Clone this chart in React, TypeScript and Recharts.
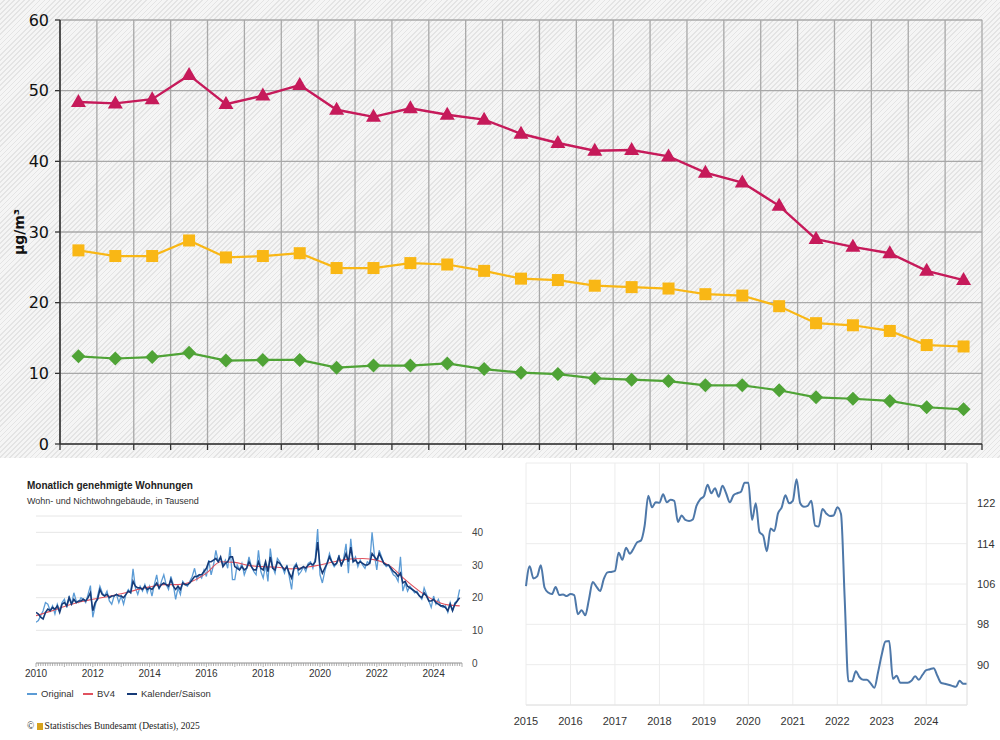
import React from 'react';
import { LineChart, Line, XAxis, YAxis, CartesianGrid } from 'recharts';

// --- top chart: NO2 annual means (µg/m³) ---
const NO2_YEARS = [
  2000, 2001, 2002, 2003, 2004, 2005, 2006, 2007, 2008, 2009, 2010, 2011, 2012,
  2013, 2014, 2015, 2016, 2017, 2018, 2019, 2020, 2021, 2022, 2023, 2024,
];
const NO2_TRAFFIC = [48.4, 48.2, 48.8, 52.2, 48.1, 49.3, 50.8, 47.3, 46.3, 47.5, 46.6, 45.9, 43.9, 42.6, 41.5, 41.6, 40.7, 38.4, 37.0, 33.7, 29.0, 27.9, 27.0, 24.5, 23.2];
const NO2_URBAN = [27.4, 26.6, 26.6, 28.8, 26.4, 26.6, 27.0, 24.9, 24.9, 25.6, 25.4, 24.5, 23.4, 23.2, 22.4, 22.2, 22.0, 21.2, 21.0, 19.5, 17.1, 16.8, 16.0, 14.0, 13.8];
const NO2_RURAL = [12.4, 12.1, 12.3, 12.9, 11.8, 11.9, 11.9, 10.8, 11.1, 11.1, 11.4, 10.6, 10.1, 9.9, 9.3, 9.1, 8.9, 8.3, 8.3, 7.6, 6.6, 6.4, 6.1, 5.2, 4.9];
const NO2_TICKS = [0, 10, 20, 30, 40, 50, 60];

// --- bottom left: Monatlich genehmigte Wohnungen (Tausend), Jan 2010 .. Dez 2024 ---
const WHG_YEARS = [2010, 2011, 2012, 2013, 2014, 2015, 2016, 2017, 2018, 2019, 2020, 2021, 2022, 2023, 2024];
const WHG_LABEL_YEARS = [2010, 2012, 2014, 2016, 2018, 2020, 2022, 2024];
const WHG_ORIGINAL = [
  12.5, 13.0, 14.5, 16.0, 18.5, 18.0, 16.0, 17.5, 15.0, 18.0, 16.0, 18.5,
  19.5, 17.0, 20.5, 18.0, 21.5, 19.0, 18.5, 20.0, 19.5, 18.5, 21.0, 23.7,
  14.0, 17.5, 20.5, 23.5, 21.5, 20.5, 22.0, 19.0, 18.0, 20.5, 21.0, 18.5,
  20.5, 18.0, 21.0, 22.5, 21.5, 28.8, 23.0, 21.0, 23.5, 22.0, 24.0, 21.5,
  23.5, 20.5, 24.0, 27.0, 22.5, 25.0, 27.0, 24.0, 22.5, 26.5, 24.0, 19.5,
  23.0, 21.0, 25.0, 24.0, 23.5, 25.0, 26.5, 29.0, 25.5, 27.0, 26.0, 28.5,
  26.5, 31.5, 27.0, 30.0, 34.5, 31.0, 32.0, 30.0, 31.5, 29.0, 35.5, 25.5,
  25.5, 30.0, 28.5, 30.5, 27.0, 29.0, 32.5, 29.5, 28.0, 27.0, 34.5, 28.0,
  26.0, 30.0, 25.0, 35.0, 29.5, 27.5, 32.0, 31.0, 29.5, 27.5, 30.0, 26.5,
  22.5, 29.5, 30.5, 27.0, 28.0, 29.5, 28.0, 30.5, 31.0, 29.0, 32.0, 41.0,
  27.0, 24.5, 28.0, 30.5, 33.5, 31.0, 29.5, 30.5, 33.0, 29.5, 32.0, 36.5,
  27.5, 38.0, 31.0, 32.5, 29.5, 31.5, 30.0, 29.0, 31.0, 30.5, 40.0, 33.0,
  28.5, 34.5, 32.5, 30.5, 29.5, 30.0, 28.5, 27.0, 26.5, 25.0, 32.5, 22.0,
  24.5, 22.0, 23.5, 22.5, 21.5, 22.0, 20.5, 19.5, 23.0, 21.0, 19.0, 17.0,
  20.5, 18.0, 19.5, 17.5, 17.0, 17.5, 15.5, 18.5, 16.0, 18.5, 19.0, 22.5,
];
const WHG_KALENDER_SAISON = [
  15.5, 15.0, 14.0, 13.5, 15.5, 16.5, 16.0, 17.0, 16.5, 17.5, 15.5, 18.0,
  18.5, 17.5, 20.0, 18.0, 19.5, 18.5, 19.0, 19.0, 19.5, 19.0, 20.0, 21.5,
  16.0, 18.5, 19.5, 22.5, 21.0, 20.5, 21.0, 20.0, 20.5, 20.5, 21.0, 20.5,
  20.5, 20.0, 21.0, 22.0, 21.5, 25.0, 23.5, 23.0, 23.0, 22.5, 23.5, 22.5,
  23.0, 22.5, 23.5, 24.5, 23.0, 24.0, 24.5, 24.0, 23.5, 25.5, 23.5, 22.5,
  23.5, 22.5, 24.5, 24.0, 24.0, 24.5, 25.5, 26.5, 26.5, 27.0, 27.0, 28.0,
  29.0, 31.0, 31.0, 31.5, 32.0, 31.0, 32.5, 29.5, 30.5, 31.0, 32.5, 32.5,
  29.5, 29.0, 28.5, 29.5, 28.5, 29.0, 31.0, 29.5, 28.5, 28.5, 31.0, 29.0,
  28.5, 31.0, 28.0, 32.5, 29.0, 28.5, 31.0, 30.5, 29.5, 28.5, 29.5, 27.5,
  26.0, 29.0, 30.0, 28.5, 29.0, 29.5, 29.0, 30.0, 30.5, 30.0, 31.0, 37.0,
  29.5, 27.5, 29.0, 30.5, 32.5, 31.0, 30.0, 30.5, 32.5, 30.0, 31.5, 33.5,
  31.0, 35.5, 31.0, 31.5, 30.5, 31.0, 30.5, 30.0, 30.0, 30.5, 33.5, 32.5,
  31.5, 33.5, 32.0, 30.5, 30.0, 30.0, 29.0, 28.0, 27.5, 26.5, 27.5, 24.5,
  25.0, 23.5, 23.0, 22.5, 22.0, 21.5, 20.5, 20.0, 21.5, 20.5, 19.0, 19.0,
  19.5, 18.5, 18.0, 17.5, 17.5, 17.0, 16.0, 18.0, 16.0, 18.0, 19.0, 20.0,
];
const BV4_TIME = [2010.0, 2010.5, 2011.0, 2011.5, 2012.0, 2012.5, 2013.0, 2013.5, 2014.0, 2014.5, 2015.0, 2015.5, 2016.0, 2016.5, 2017.0, 2017.5, 2018.0, 2018.5, 2019.0, 2019.5, 2020.0, 2020.5, 2021.0, 2021.5, 2022.0, 2022.5, 2023.0, 2023.5, 2024.0, 2024.5, 2024.92];
const BV4_VALUES = [14.5, 15.8, 17.3, 18.6, 19.5, 20.3, 21.2, 22.3, 23.3, 24.0, 24.0, 25.0, 27.5, 31.0, 30.8, 29.8, 29.5, 29.3, 28.8, 29.3, 30.0, 31.0, 31.8, 32.0, 31.5, 29.5, 25.5, 22.0, 19.3, 17.8, 17.5];
const WHG_TICKS_Y = [0, 10, 20, 30, 40];

// --- bottom right: monthly index, Jan 2015 .. Dez 2024 ---
const IDX_YEARS = [2015, 2016, 2017, 2018, 2019, 2020, 2021, 2022, 2023, 2024];
const IDX_VALUES = [
  105.6, 109.5, 107.1, 107.5, 109.7, 105.3, 104.3, 104.0, 105.4, 103.8, 103.9, 103.6,
  104.0, 103.8, 100.0, 100.8, 99.8, 103.0, 106.4, 105.5, 104.6, 107.0, 108.3, 108.4,
  108.6, 112.2, 110.8, 113.2, 112.0, 113.0, 114.3, 114.6, 117.5, 123.5, 121.2, 122.2,
  122.1, 123.8, 122.2, 122.7, 122.5, 118.3, 119.6, 118.7, 118.5, 118.8, 121.5, 122.8,
  123.4, 125.7, 124.0, 125.0, 123.3, 125.5, 124.0, 122.2, 123.6, 124.0, 124.3, 126.1,
  126.1, 118.7, 122.0, 116.3, 115.6, 112.5, 117.0, 116.5, 120.0, 121.2, 123.6, 122.0,
  122.5, 126.8, 122.0, 121.3, 121.5, 122.5, 117.6, 117.4, 120.9, 120.0, 119.5, 119.6,
  121.2, 119.9, 103.0, 86.7, 86.7, 88.7, 87.5, 87.0, 87.0, 86.3, 85.4, 88.5,
  92.0, 94.6, 94.7, 87.2, 87.8, 86.4, 86.4, 86.4, 86.8, 87.7, 87.0, 88.0,
  88.9, 89.1, 89.3, 87.8, 86.4, 86.2, 86.0, 85.8, 85.6, 86.8, 86.2, 86.2,
];
const IDX_TICKS_Y = [90, 98, 106, 114, 122];

const RED = '#c61a5a';
const YELLOW = '#f9b715';
const GREEN = '#4fa336';

const no2Data = NO2_YEARS.map((year, i) => ({
  year,
  traffic: NO2_TRAFFIC[i],
  urban: NO2_URBAN[i],
  rural: NO2_RURAL[i],
}));
const no2Bounds = [NO2_YEARS[0] - 0.5, ...NO2_YEARS.map((y) => y + 0.5)];

const monthly = (startYear: number, values: number[]) =>
  values.map((v, i) => ({ t: startYear + i / 12, v }));

const originalData = monthly(WHG_YEARS[0], WHG_ORIGINAL);
const kalenderData = monthly(WHG_YEARS[0], WHG_KALENDER_SAISON);
const bv4Data = BV4_TIME.map((t, i) => ({ t, v: BV4_VALUES[i] }));
const whgMonthTicks: number[] = [];
WHG_YEARS.forEach((y) => {
  for (let m = 0; m < 12; m++) whgMonthTicks.push(y + m / 12);
});
whgMonthTicks.push(WHG_YEARS[WHG_YEARS.length - 1] + 1);

const idxData = monthly(IDX_YEARS[0], IDX_VALUES);

const Triangle = (props: any) => {
  const { cx, cy, index } = props;
  if (cx == null || cy == null) return <g key={index} />;
  return (
    <polygon
      key={index}
      points={`${cx},${cy - 8} ${cx + 7.5},${cy + 5} ${cx - 7.5},${cy + 5}`}
      fill={RED}
    />
  );
};

const Square = (props: any) => {
  const { cx, cy, index } = props;
  if (cx == null || cy == null) return <g key={index} />;
  return <rect key={index} x={cx - 6} y={cy - 6} width={12} height={12} fill={YELLOW} />;
};

const Diamond = (props: any) => {
  const { cx, cy, index } = props;
  if (cx == null || cy == null) return <g key={index} />;
  return (
    <polygon
      key={index}
      points={`${cx},${cy - 7} ${cx + 7},${cy} ${cx},${cy + 7} ${cx - 7},${cy}`}
      fill={GREEN}
    />
  );
};

// x tick labels of the top chart are cut off in the source, keep just the tick marks
const EmptyTick = () => <g />;

const MonthTick = (props: any) => {
  const { x, y, payload } = props;
  const v = payload.value as number;
  const isYear = Math.abs(v - Math.round(v)) < 1e-6;
  const label = isYear && WHG_LABEL_YEARS.includes(Math.round(v));
  return (
    <g>
      <line x1={x} x2={x} y1={y} y2={y + (isYear ? 4 : 3)} stroke="#9a9a9a" strokeWidth={0.8} />
      {label && (
        <text x={x} y={y + 14} textAnchor="middle" fontSize={10} fill="#333" fontFamily="Liberation Sans, Arial, sans-serif">
          {Math.round(v)}
        </text>
      )}
    </g>
  );
};

const sans = 'Liberation Sans, Arial, sans-serif';

function LegendItem({ color, label, left }: { color: string; label: string; left: number }) {
  return (
    <div style={{ position: 'absolute', left, top: 688, display: 'flex', alignItems: 'center', fontFamily: sans, fontSize: 9.5, color: '#333' }}>
      <span style={{ display: 'inline-block', width: 10, height: 2, background: color, marginRight: 4 }} />
      {label}
    </div>
  );
}

export default function App() {
  return (
    <div style={{ position: 'relative', width: 1000, height: 740, background: '#fff', overflow: 'hidden' }}>
      <style>{'body{margin:0}'}</style>

      {/* top chart */}
      <div
        style={{
          position: 'absolute',
          left: 0,
          top: 0,
          width: 1000,
          height: 458,
          background: 'repeating-linear-gradient(135deg, #f5f5f5 0px, #f5f5f5 2.4px, #e4e4e4 2.4px, #e4e4e4 3.6px)',
        }}
      >
        <LineChart width={1000} height={458} data={no2Data} margin={{ top: 20, right: 18, left: 0, bottom: 0 }}>
          <CartesianGrid stroke="#a8a8a8" strokeWidth={1.3} />
          <XAxis
            dataKey="year"
            type="number"
            domain={[no2Bounds[0], no2Bounds[no2Bounds.length - 1]]}
            ticks={no2Bounds}
            interval={0}
            tick={EmptyTick}
            tickSize={6}
            height={14}
            axisLine={{ stroke: '#333', strokeWidth: 1.6 }}
            tickLine={{ stroke: '#333', strokeWidth: 1.3 }}
          />
          <YAxis
            type="number"
            domain={[0, 60]}
            ticks={NO2_TICKS}
            interval={0}
            width={60}
            tickSize={5}
            tickMargin={6}
            axisLine={{ stroke: '#333', strokeWidth: 1.6 }}
            tickLine={{ stroke: '#333', strokeWidth: 1.3 }}
            tick={{ fill: '#111', fontSize: 16, fontFamily: 'DejaVu Sans, Verdana, sans-serif' }}
          />
          <Line dataKey="traffic" stroke={RED} strokeWidth={2.4} dot={Triangle} isAnimationActive={false} type="linear" />
          <Line dataKey="urban" stroke={YELLOW} strokeWidth={2.2} dot={Square} isAnimationActive={false} type="linear" />
          <Line dataKey="rural" stroke={GREEN} strokeWidth={2.2} dot={Diamond} isAnimationActive={false} type="linear" />
        </LineChart>
        <div
          style={{
            position: 'absolute',
            left: 19,
            top: 232,
            transform: 'translate(-50%, -50%) rotate(-90deg)',
            fontFamily: 'DejaVu Sans, Verdana, sans-serif',
            fontWeight: 'bold',
            fontSize: 14,
            color: '#111',
            whiteSpace: 'nowrap',
          }}
        >
          µg/m³
        </div>
      </div>

      {/* bottom left chart */}
      <div style={{ position: 'absolute', left: 27, top: 480, fontFamily: sans, fontWeight: 'bold', fontSize: 10, color: '#222' }}>
        Monatlich genehmigte Wohnungen
      </div>
      <div style={{ position: 'absolute', left: 27, top: 496, fontFamily: sans, fontSize: 9, color: '#333' }}>
        Wohn- und Nichtwohngebäude, in Tausend
      </div>
      <div style={{ position: 'absolute', left: 0, top: 505 }}>
        <LineChart width={500} height={180} margin={{ top: 11, right: 0, left: 36, bottom: 0 }}>
          <CartesianGrid vertical={false} stroke="#e6e6e6" />
          <XAxis
            dataKey="t"
            type="number"
            domain={[WHG_YEARS[0], WHG_YEARS[WHG_YEARS.length - 1] + 1]}
            ticks={whgMonthTicks}
            interval={0}
            tickLine={false}
            tickSize={0}
            tickMargin={0}
            tick={<MonthTick />}
            height={22}
            axisLine={{ stroke: '#9a9a9a' }}
            allowDataOverflow
          />
          <YAxis
            orientation="right"
            type="number"
            domain={[0, 45]}
            ticks={WHG_TICKS_Y}
            interval={0}
            width={38}
            axisLine={false}
            tickLine={false}
            tickMargin={4}
            tick={{ fontSize: 10, fill: '#444', fontFamily: sans }}
          />
          <Line data={originalData} dataKey="v" stroke="#5b9bd5" strokeWidth={1.3} dot={false} isAnimationActive={false} type="linear" />
          <Line data={bv4Data} dataKey="v" stroke="#e0525e" strokeWidth={1.1} dot={false} isAnimationActive={false} type="monotone" />
          <Line data={kalenderData} dataKey="v" stroke="#163b78" strokeWidth={1.6} dot={false} isAnimationActive={false} type="linear" />
        </LineChart>
      </div>
      <LegendItem color="#5b9bd5" label="Original" left={27} />
      <LegendItem color="#e0525e" label="BV4" left={83} />
      <LegendItem color="#163b78" label="Kalender/Saison" left={127} />
      <div style={{ position: 'absolute', left: 27, top: 721, fontFamily: 'Liberation Serif, Times New Roman, serif', fontSize: 9.5, color: '#222' }}>
        © <span style={{ display: 'inline-block', width: 6, height: 7, background: '#d6a21e', verticalAlign: 'middle', marginRight: 2 }} />
        Statistisches Bundesamt (Destatis), 2025
      </div>

      {/* bottom right chart */}
      <div style={{ position: 'absolute', left: 500, top: 458 }}>
        <LineChart width={500} height={270} data={idxData} margin={{ top: 5, right: 0, left: 26, bottom: 0 }}>
          <CartesianGrid stroke="#ececec" />
          <XAxis
            dataKey="t"
            type="number"
            domain={[IDX_YEARS[0], IDX_YEARS[IDX_YEARS.length - 1] + 11 / 12]}
            ticks={IDX_YEARS}
            interval={0}
            tickLine={false}
            tickMargin={6}
            height={23}
            axisLine={{ stroke: '#e2e2e2' }}
            tick={{ fontSize: 11, fill: '#333', fontFamily: sans }}
          />
          <YAxis
            orientation="right"
            type="number"
            domain={[82, 130]}
            ticks={IDX_TICKS_Y}
            interval={0}
            width={33}
            axisLine={{ stroke: '#e6e6e6' }}
            tickLine={false}
            tickMargin={4}
            tick={{ fontSize: 11, fill: '#333', fontFamily: sans }}
          />
          <Line dataKey="v" stroke="#4e78a9" strokeWidth={2} dot={false} isAnimationActive={false} type="monotone" />
        </LineChart>
      </div>
    </div>
  );
}
